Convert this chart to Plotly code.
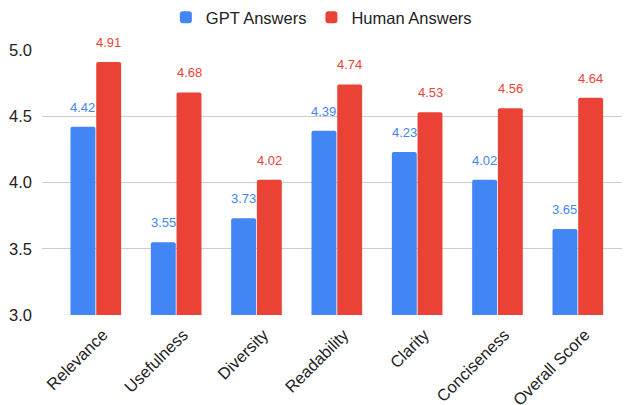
import plotly.graph_objects as go

categories = ["Relevance", "Usefulness", "Diversity", "Readability", "Clarity", "Conciseness", "Overall Score"]
gpt_values = [4.42, 3.55, 3.73, 4.39, 4.23, 4.02, 3.65]
human_values = [4.91, 4.68, 4.02, 4.74, 4.53, 4.56, 4.64]
gpt_labels = ["4.42", "3.55", "3.73", "4.39", "4.23", "4.02", "3.65"]
human_labels = ["4.91", "4.68", "4.02", "4.74", "4.53", "4.56", "4.64"]
y_ticks = [3.0, 3.5, 4.0, 4.5, 5.0]

BLUE = "#4285F4"
RED = "#EA4335"
FONT = "Arial, 'Liberation Sans', sans-serif"

fig = go.Figure()
fig.add_trace(go.Bar(
    name="GPT Answers", x=categories, y=gpt_values,
    marker=dict(color=BLUE, line=dict(width=0)),
))
fig.add_trace(go.Bar(
    name="Human Answers", x=categories, y=human_values,
    marker=dict(color=RED, line=dict(width=0)),
))

# value labels above each bar, shifted to the bar's slot in the group
annotations = []
for vals, labels, color, dx in [(gpt_values, gpt_labels, BLUE, -13), (human_values, human_labels, RED, 13)]:
    for c, v, t in zip(categories, vals, labels):
        annotations.append(dict(x=c, y=v, text=t, showarrow=False, xshift=dx, yshift=10,
                                yanchor="bottom", xanchor="center",
                                font=dict(color=color, size=13, family=FONT)))

fig.update_layout(
    width=624, height=405,
    margin=dict(l=42, r=2, t=50, b=90, autoexpand=False),
    paper_bgcolor="white", plot_bgcolor="white",
    font=dict(family=FONT, color="#222222", size=16),
    barmode="group", bargap=0.36, bargroupgap=0.03,
    barcornerradius=2,
    hovermode=False,
    showlegend=True,
    annotations=annotations,
    legend=dict(orientation="h", x=0.515, xanchor="center", xref="container",
                y=1.0, yanchor="top", yref="container",
                font=dict(size=16.5, color="#222222"), traceorder="normal"),
)
fig.update_xaxes(range=[-0.67, 6.55], tickangle=-45, showgrid=False, showline=False,
                 ticks="", automargin=False, ticklabelshift=7, ticklabelstandoff=6,
                 tickfont=dict(size=16.5, color="#222222"))
fig.update_yaxes(range=[3.0, 5.0], tickvals=y_ticks, ticktext=[f"{v:.1f}" for v in y_ticks],
                 showgrid=True, gridcolor="#cccccc", gridwidth=1, zeroline=False,
                 showline=False, ticks="", ticklabelstandoff=9, automargin=False,
                 tickfont=dict(size=16.5, color="#222222"))

fig.write_html("out.html", post_script="document.body.style.margin='0';",
               config={"displayModeBar": False})
